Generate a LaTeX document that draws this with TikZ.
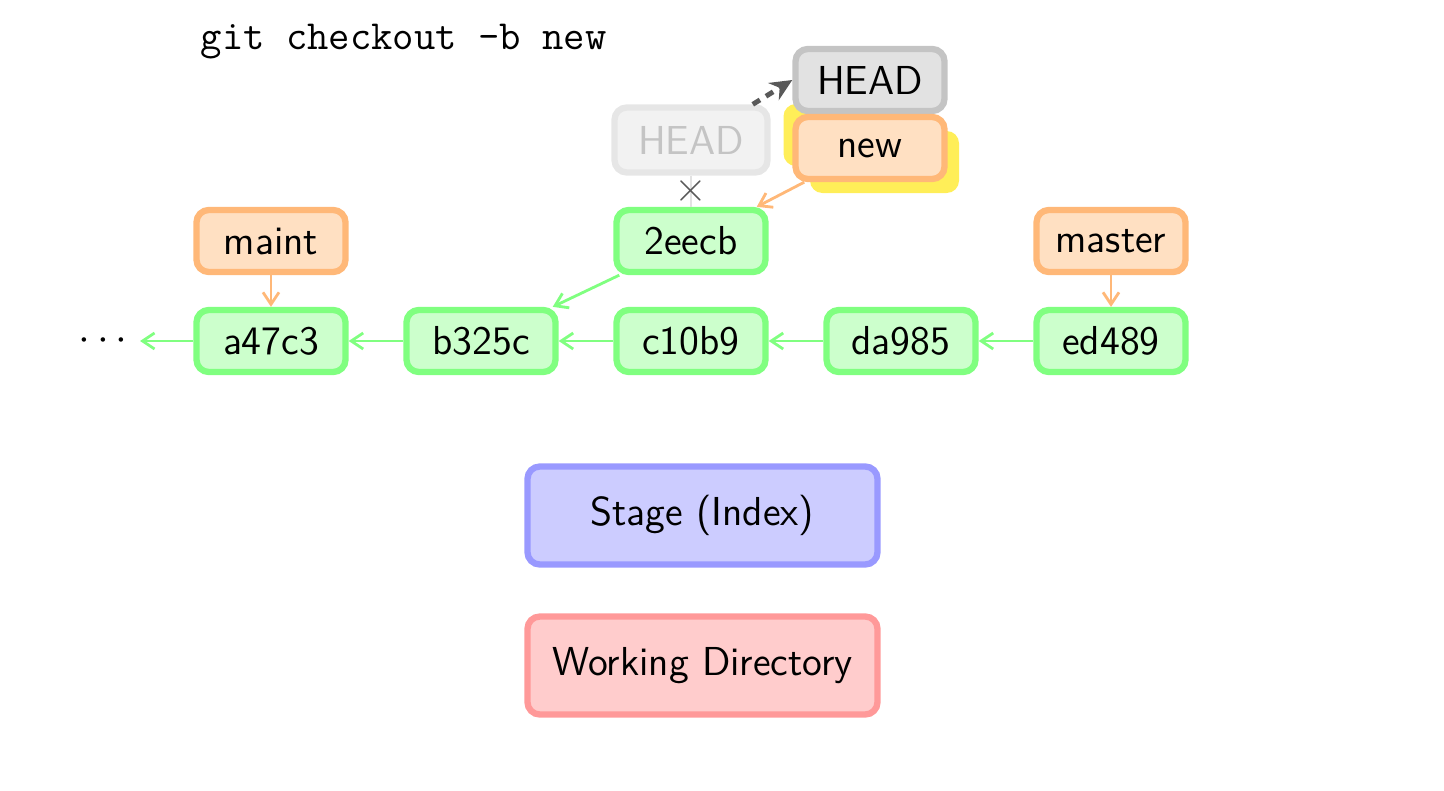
\documentclass[tikz,border=0pt]{standalone}
\usetikzlibrary{positioning,arrows.meta}

\definecolor{commitfill}{HTML}{CCFFCC}
\definecolor{commitline}{HTML}{80FF80}
\definecolor{branchfill}{HTML}{FFE0C2}
\definecolor{branchline}{HTML}{FFB878}
\definecolor{headfill}{HTML}{E2E2E2}
\definecolor{headline}{HTML}{C4C4C4}
\definecolor{ghostfill}{HTML}{F2F2F2}
\definecolor{ghostline}{HTML}{E6E6E6}
\definecolor{ghosttext}{HTML}{C4C4C4}
\definecolor{hilite}{HTML}{FFEE58}
\definecolor{stagefill}{HTML}{CCCCFF}
\definecolor{stageline}{HTML}{9999FF}
\definecolor{wdfill}{HTML}{FFCCCC}
\definecolor{wdline}{HTML}{FF9999}

\tikzset{
  box/.style={rounded corners=3.5pt, line width=1.8pt, minimum width=1.49cm,
    minimum height=0.62cm, inner sep=0pt, font=\sffamily\fontsize{11.5}{14}\selectfont},
  commit/.style={box, draw=commitline, fill=commitfill},
  branch/.style={box, draw=branchline, fill=branchfill},
  head/.style={box, draw=headline, fill=headfill},
  ghost/.style={box, draw=ghostline, fill=ghostfill, text=ghosttext},
  glow/.style={box, fill=hilite},
  area/.style={box, minimum width=3.5cm, minimum height=0.98cm},
  tip/.style={-{Straight Barb[length=1.2mm,width=1.6mm]}, line width=0.8pt},
}

\begin{document}
\begin{tikzpicture}[node distance=2.1cm, on grid]
    \useasboundingbox (0,0) rectangle (14.44,7.90);

    \node[anchor=west, inner sep=0pt, font=\ttfamily\fontsize{11.8}{14}\selectfont] (cmd) at (2.0,7.48) {git checkout -b new};

    % commits
    \node[commit] (a47c3) at (2.71,4.49) {a47c3};
    \node[commit] (b325c) [right=of a47c3] {b325c};
    \node[commit] (c10b9) [right=of b325c] {c10b9};
    \node[commit] (da985) [right=of c10b9] {da985};
    \node[commit] (ed489) [right=of da985] {ed489};
    \node[commit] (2eecb) [above=1cm of c10b9] {2eecb};
    \node[font=\fontsize{11.5}{13}\selectfont] (dots) at (1.03,4.49) {$\cdots$};

    % branches
    \node[branch] (maint) [above=1cm of a47c3] {maint};
    \node[branch] (master) [above=1cm of ed489] {master};
    \node[ghost, minimum width=1.53cm, minimum height=0.65cm] (oldhead) [above=1.01cm of 2eecb] {HEAD};
    \node[glow] (glowa) at (8.58,6.55) {};
    \node[glow] (glowb) at (8.845,6.28) {};
    \node[head] (head) at (8.70,7.10) {HEAD};
    \node[branch] (new) at (8.70,6.42) {new};

    \node[area, draw=stageline, fill=stagefill] (stage) at (7.025,2.745) {Stage (Index)};
    \node[area, draw=wdline, fill=wdfill] (wd) [below=1.5cm of stage] {Working Directory};

    \path[tip, draw=commitline]
    (a47c3) edge (dots)
    (b325c) edge (a47c3)
    (c10b9) edge (b325c)
    (da985) edge (c10b9)
    (ed489) edge (da985)
    (2eecb) edge (b325c);

    \path[tip, draw=branchline]
    (maint) edge (a47c3)
    (master) edge (ed489)
    (new) edge (2eecb);

    \draw[draw=headfill, line width=0.8pt] (oldhead) -- node[text=black!65, font=\fontsize{13}{15}\selectfont] (cross) {$\times$} (2eecb);
    \draw[black!65, line width=1.4pt, dash pattern=on 2.4pt off 2pt, -{Stealth[length=2.2mm,width=2mm]}] (oldhead.30) -- (head.west);
\end{tikzpicture}
\end{document}
